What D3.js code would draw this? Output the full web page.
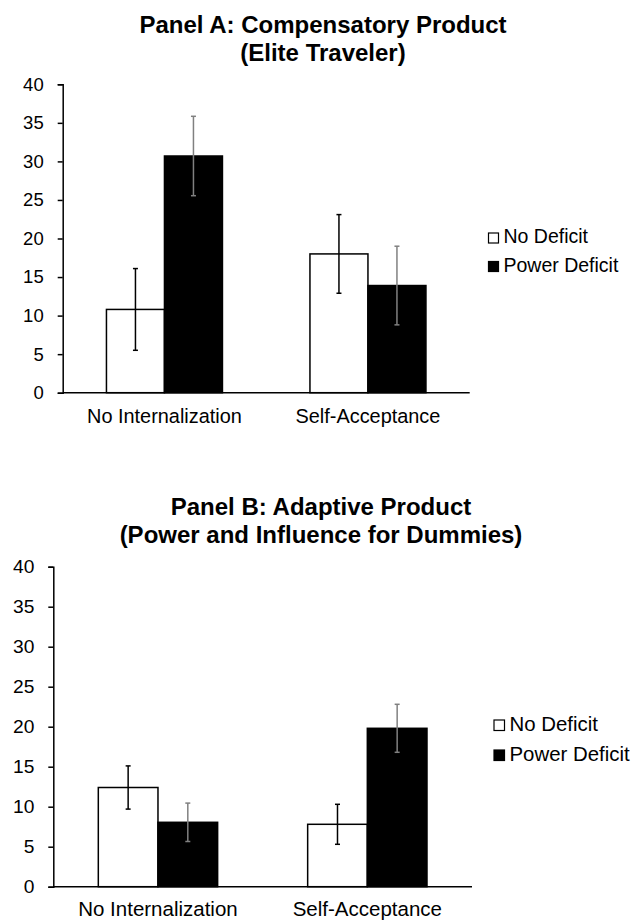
<!DOCTYPE html>
<meta charset="utf-8">
<style>
	body{ margin:0; background:#fff; }
	svg{ display:block; font-family:"Liberation Sans", Arial, sans-serif; }
	.title{ font-weight:bold; font-size:24px; text-anchor:middle; }
	.axis path, .axis line{ stroke:#000; stroke-width:1.5; }
	.axis text{ fill:#000; }
	.bar{ stroke:#000; stroke-width:1.5; }
</style>
<body>
<svg width="633" height="920" id="chart"></svg>
<script src="https://cdn.jsdelivr.net/npm/d3@7"></script>
<script>
	// data
	var categories = ["No Internalization", "Self-Acceptance"];
	var series = ["No Deficit", "Power Deficit"];
	var yTicks = [0, 5, 10, 15, 20, 25, 30, 35, 40];

	var aNoDeficit = [10.8, 18.0];
	var aPowerDeficit = [30.7, 13.9];
	var aNoDeficitErr = [5.3, 5.1];
	var aPowerDeficitErr = [5.15, 5.1];

	var bNoDeficit = [12.4, 7.8];
	var bPowerDeficit = [8.05, 19.8];
	var bNoDeficitErr = [2.7, 2.5];
	var bPowerDeficitErr = [2.4, 3.0];

	var fills = ["#fff", "#000"];
	var errColors = ["#000", "#808080"];

	var svg = d3.select("#chart");

	function drawPanel(p){
		var g = svg.append("g");

		g.append("text").attr("class","title").attr("x", p.cx).attr("y", p.titleY).text(p.title1);
		g.append("text").attr("class","title").attr("x", p.cx).attr("y", p.titleY + 28).text(p.title2);

		var y = d3.scaleLinear().domain([0, 40]).range([p.bottom, p.top]);
		var x = d3.scaleBand().domain(categories).range([p.left, p.right]).paddingInner(0.43).paddingOuter(0.215);
		var xs = d3.scaleBand().domain(series).range([0, x.bandwidth()]);

		var yAxis = g.append("g").attr("class","axis")
			.attr("transform","translate(" + p.left + ",0)")
			.call(d3.axisLeft(y).tickValues(yTicks).tickSize(5).tickPadding(14).tickSizeOuter(5));
		yAxis.selectAll("text").style("font-size", p.tickFont + "px");

		var rows = [];
		categories.forEach(function(c, i){
			rows.push({cat:c, s:0, v:p.vals[0][i], e:p.errs[0][i]});
			rows.push({cat:c, s:1, v:p.vals[1][i], e:p.errs[1][i]});
		});

		g.selectAll("rect.bar").data(rows).enter().append("rect")
			.attr("class","bar")
			.attr("x", function(d){ return x(d.cat) + xs(series[d.s]); })
			.attr("y", function(d){ return y(d.v); })
			.attr("width", xs.bandwidth())
			.attr("height", function(d){ return y(0) - y(d.v); })
			.attr("fill", function(d){ return fills[d.s]; });

		// error bars
		var eb = g.selectAll("g.err").data(rows).enter().append("g")
			.attr("class","err")
			.attr("stroke", function(d){ return errColors[d.s]; })
			.attr("stroke-width", 1.5);
		function cx(d){ return x(d.cat) + xs(series[d.s]) + xs.bandwidth() / 2; }
		eb.append("line")
			.attr("x1", cx).attr("x2", cx)
			.attr("y1", function(d){ return y(d.v + d.e); })
			.attr("y2", function(d){ return y(d.v - d.e); });
		eb.append("line")
			.attr("x1", function(d){ return cx(d) - 2.5; }).attr("x2", function(d){ return cx(d) + 2.5; })
			.attr("y1", function(d){ return y(d.v + d.e); }).attr("y2", function(d){ return y(d.v + d.e); });
		eb.append("line")
			.attr("x1", function(d){ return cx(d) - 2.5; }).attr("x2", function(d){ return cx(d) + 2.5; })
			.attr("y1", function(d){ return y(d.v - d.e); }).attr("y2", function(d){ return y(d.v - d.e); });

		// x axis: plain baseline, no ticks
		g.append("line").attr("class","axisline")
			.attr("x1", p.left).attr("x2", p.right)
			.attr("y1", y(0)).attr("y2", y(0))
			.attr("stroke","#000").attr("stroke-width",1.5);
		g.selectAll("text.xlab").data(categories).enter().append("text")
			.attr("class","xlab")
			.attr("x", function(d){ return x(d) + x.bandwidth() / 2; })
			.attr("y", p.xLabelY)
			.attr("text-anchor","middle")
			.style("font-size", p.xFont + "px")
			.text(function(d){ return d; });

		// legend
		var lg = g.selectAll("g.legend").data(series).enter().append("g")
			.attr("class","legend")
			.attr("transform", function(d, i){ return "translate(" + p.legX + "," + (p.legY + i * p.legStep) + ")"; });
		lg.append("rect")
			.attr("x", 0).attr("y", -p.legBox)
			.attr("width", p.legBox).attr("height", p.legBox)
			.attr("fill", function(d, i){ return fills[i]; })
			.attr("stroke","#000").attr("stroke-width",1.2);
		lg.append("text")
			.attr("x", p.legBox + 5).attr("y", 0)
			.style("font-size", p.legFont + "px")
			.text(function(d){ return d; });
	}

	drawPanel({
		title1:"Panel A: Compensatory Product", title2:"(Elite Traveler)",
		cx:323, titleY:33,
		left:62.7, right:469.7, top:84.3, bottom:392.7,
		vals:[aNoDeficit, aPowerDeficit], errs:[aNoDeficitErr, aPowerDeficitErr],
		tickFont:18.5, xFont:19.9, xLabelY:422.7,
		legX:488.5, legY:243, legStep:28.5, legBox:10, legFont:19.5
	});

	drawPanel({
		title1:"Panel B: Adaptive Product", title2:"(Power and Influence for Dummies)",
		cx:321, titleY:515,
		left:53.3, right:472, top:566.7, bottom:886.7,
		vals:[bNoDeficit, bPowerDeficit], errs:[bNoDeficitErr, bPowerDeficitErr],
		tickFont:19.2, xFont:20.5, xLabelY:915.5,
		legX:494, legY:730.5, legStep:30, legBox:10.5, legFont:20.4
	});
</script>
</body>
